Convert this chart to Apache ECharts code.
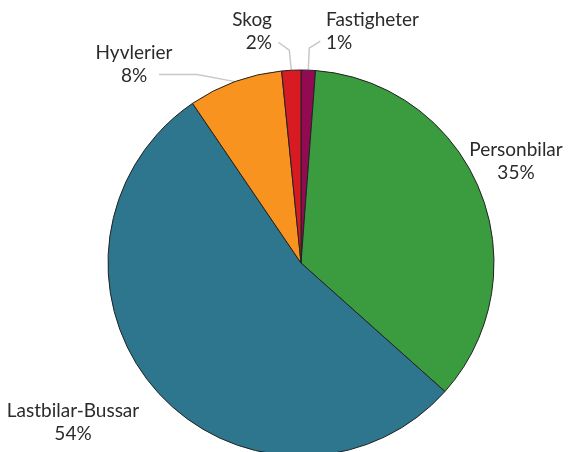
<!DOCTYPE html>
<html>
<head>
<meta charset="utf-8">
<script src="https://cdn.jsdelivr.net/npm/echarts@6/dist/echarts.min.js"></script>
<style>
  html, body { margin: 0; padding: 0; background: #fff; }
  #chart { width: 569px; height: 452px; }
</style>
</head>
<body>
<div id="chart"></div>
<script>
// andelar, medurs från toppen
var categories = ['Fastigheter', 'Personbilar', 'Lastbilar-Bussar', 'Hyvlerier', 'Skog'];
var values = [1.2, 35.4, 53.9, 7.9, 1.6];
var colors = ['#920b52', '#3a9b3f', '#2d768d', '#f7931e', '#d81b23'];

// etikettplacering (ungefär som i originalet)
var labelPos = [
  { x: 326, y: 31, align: 'left' },
  { x: 516, y: 161, align: 'center' },
  { x: 73, y: 422, align: 'center' },
  { x: 134, y: 64, align: 'center' },
  { x: 272, y: 31, align: 'right' }
];
var showLine = [true, false, false, true, true];
// knäckpunkter relativt tårtbitens kant
var lineBends = [
  [[1, -22], [12, -29]],
  null,
  null,
  [[-38, -7], [-76, -7]],
  [[-2, -20], [-13, -28]]
];

var myChart = echarts.init(document.getElementById('chart'));

var option = {
  animation: false,
  series: [
    {
      type: 'pie',
      center: [301, 263],
      radius: 193,
      startAngle: 90,
      clockwise: true,
      percentPrecision: 0,
      data: categories.map(function (name, i) {
        return {
          name: name,
          value: values[i],
          itemStyle: { color: colors[i] },
          labelLine: { show: showLine[i] }
        };
      }),
      itemStyle: {
        borderColor: '#222',
        borderWidth: 1
      },
      label: {
        show: true,
        position: 'outside',
        formatter: '{b}\n{d}%',
        color: '#2b2b2b',
        fontFamily: 'Lato',
        fontSize: 19,
        lineHeight: 23,
        overflow: 'none'
      },
      labelLine: {
        lineStyle: { color: '#c8c8c8', width: 1.5 },
        length: 10,
        length2: 10
      },
      labelLayout: function (params) {
        var i = params.dataIndex;
        var p = labelPos[i];
        var res = {
          x: p.x,
          y: p.y,
          align: p.align,
          verticalAlign: 'middle'
        };
        if (lineBends[i] && params.labelLinePoints) {
          var a = params.labelLinePoints[0];
          res.labelLinePoints = [a].concat(lineBends[i].map(function (d) {
            return [a[0] + d[0], a[1] + d[1]];
          }));
        }
        return res;
      },
      emphasis: { disabled: true }
    }
  ]
};

option && myChart.setOption(option);
</script>
</body>
</html>
